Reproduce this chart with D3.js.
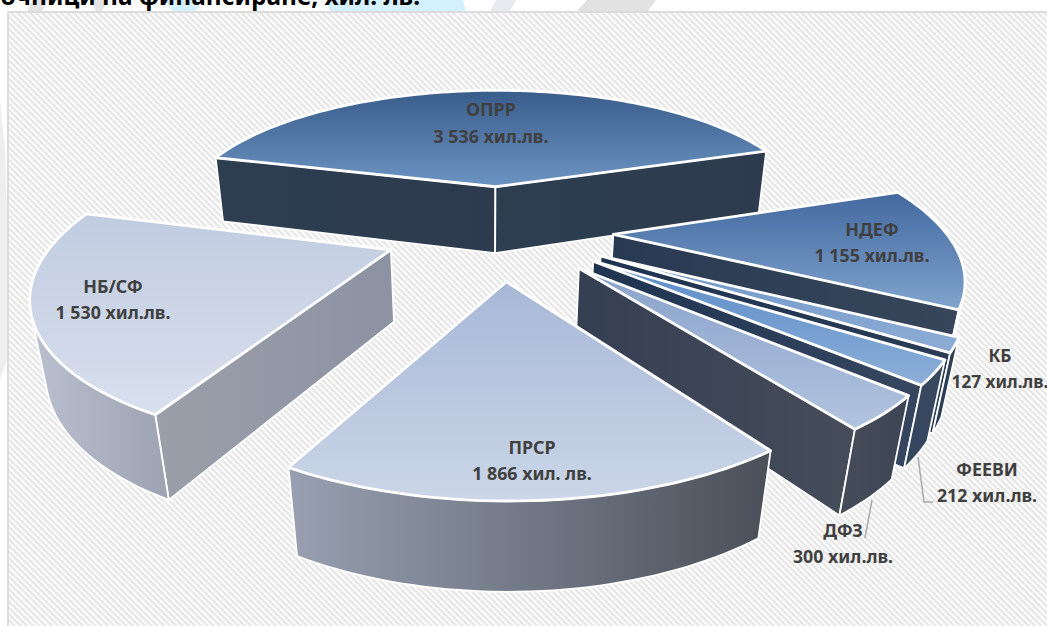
<!DOCTYPE html>
<html><head><meta charset="utf-8">
<style>html,body{margin:0;padding:0;background:#fff;overflow:hidden}svg{display:block}</style>
<script src="https://cdn.jsdelivr.net/npm/d3@7/dist/d3.min.js"></script>
</head><body><svg id="c" width="1047" height="626"></svg>
<script>
// ---- data ----
const sliceNames  = ["НДЕФ","КБ","ФЕЕВИ","ДФЗ","ПРСР","НБ/СФ","ОПРР"];
// wedge sizes as drawn in the picture (the two large front wedges are drawn with each other's size)
const sliceSizes  = [1155,127,212,300,1530,1866,3536];
const valueLabels = ["1 155 хил.лв.","127 хил.лв.","212 хил.лв.","300 хил.лв.","1 866 хил. лв.","1 530 хил.лв.","3 536 хил.лв."];
const titleText   = "очници на финансиране, хил. лв.";

// ---- styles ----
const topFill  = [["#42689f","#80a4cd"],["#6f96c9","#8dadd4"],["#5a8bc8","#8dafd7"],["#8aa2cb","#b1c4df"],["#a7b8d7","#cbd6e7"],["#c0cce0","#d9e0ee"],["#395c8b","#6c94c2"]];
const sideFill = [["#283a52","#37465a"],["#1e3350","#2a3c55"],["#1e3450","#36465f"],["#343f52","#464d5a"],["#6d7480","#4f545d"],["#9b9fa9","#8b92a2"],["#2c3e50","#2e3b4f"]];
const arcFill  = [["#3a4a60","#2c3c52"],["#2b3d56","#2f4159"],["#33455e","#394a60"],["#454d5a","#3d4555"],["#98a0b1","#4a4f58"],["#b9c0cf","#9da3b1"],["#2c3e50","#2e3b4f"]];
const labelPos = [[872,230,256],[1000,356,382],[987,470,496],[843,531,557],[532,448,474],[113,287,313],[491,110,137]];

// ---- perspective layout ----
const deg = Math.PI/180;
const horizonX = 499, horizonY = -350, focal = 1400, groundSpan = 592;
const pieR = 0.2415, explode = 0.083, centreY = 0.02;
const vanish = [485, 2487], depthK = 0.0318;
function project(X,Y){ const q = 1/(1+Y); return {x: horizonX+focal*X*q, y: horizonY+groundSpan*q, q}; }
function drop(p){ const t = depthK*p.q; return {x:p.x+t*(vanish[0]-p.x), y:p.y+t*(vanish[1]-p.y)}; }

const svg = d3.select("#c"), defs = svg.append("defs");
const line = d3.line().x(d=>d.x).y(d=>d.y);
const pie = d3.pie().sort(null).value(d=>d).startAngle(71*deg).endAngle(431*deg);
const arcs = pie(sliceSizes).map((a,i)=>({...a,i}));

function grad(id,c,vertical){
  const g = defs.append("linearGradient").attr("id",id).attr("x1",0).attr("y1",0).attr("x2",vertical?0:1).attr("y2",vertical?1:0);
  g.append("stop").attr("offset","0%").attr("stop-color",c[0]);
  g.append("stop").attr("offset","100%").attr("stop-color",c[1]);
}
sliceNames.forEach((n,i)=>{grad("t"+i,topFill[i],true);grad("s"+i,sideFill[i],false);grad("a"+i,arcFill[i],false);});
const hatch = defs.append("pattern").attr("id","hatch").attr("patternUnits","userSpaceOnUse").attr("width",4.4).attr("height",4.4).attr("patternTransform","rotate(45)");
hatch.append("rect").attr("width",4.4).attr("height",4.4).attr("fill","#fcfcfc");
hatch.append("rect").attr("width",4.4).attr("height",2.2).attr("fill","#e6e6e6");

// ---- page decoration behind the panel ----
const deco = [
  ["#e4e4e4",[[33,0],[48,0],[42,11],[27,11]]],["#e4e4e4",[[90,0],[108,0],[102,11],[96,11]]],
  ["#d3f0fb",[[165,0],[200,0],[196,11],[172,11]]],["#d3f0fb",[[327,0],[463,0],[466,11],[330,11]]],
  ["#e6e9ee",[[496,0],[516,0],[510,11],[490,11]]],["#e2e2e2",[[587,0],[656,0],[648,11],[577,11]]],
  ["#eeeeee",[[0,100],[5,150],[7,210],[7,360],[0,380]]]];
svg.append("g").selectAll("polygon").data(deco).join("polygon").attr("fill",d=>d[0]).attr("points",d=>d[1].join(" "));

svg.append("text").attr("x",420).attr("y",5).attr("text-anchor","end")
  .attr("font-family","'Noto Sans'").attr("font-weight",700).attr("font-size",24.4).attr("fill","#000").text(titleText);

svg.append("rect").attr("x",8).attr("y",12).attr("width",1060).attr("height",640).attr("fill","url(#hatch)").attr("stroke","#dcdcdc").attr("stroke-width",2);

// ---- slices, back to front ----
function geom(a){
  const mid=(a.startAngle+a.endAngle)/2;
  const ox=explode*Math.sin(mid), oy=centreY+explode*Math.cos(mid);
  const apex=project(ox,oy);
  const n=Math.max(4,Math.ceil((a.endAngle-a.startAngle)/(1.5*deg)));
  const rim=d3.range(n+1).map(k=>{const t=a.startAngle+(a.endAngle-a.startAngle)*k/n;
    return project(ox+pieR*Math.sin(t),oy+pieR*Math.cos(t));});
  return {apex,rim,mid};
}
const front=(p,q)=>{const b=drop(p);return (q.x-p.x)*(b.y-p.y)-(q.y-p.y)*(b.x-p.x)<0;};
const quad=pts=>pts.concat(pts.map(drop).reverse());

const order=arcs.slice().sort((u,v)=>Math.cos((v.startAngle+v.endAngle)/2)-Math.cos((u.startAngle+u.endAngle)/2));
const gSl=svg.selectAll("g.slice").data(order).join("g").attr("class","slice");
gSl.each(function(a){
  const g=d3.select(this), G=geom(a), last=G.rim[G.rim.length-1], i=a.i;
  const wall=(pts,fill)=>g.append("path").attr("d",line(quad(pts))+"Z").attr("fill",fill)
     .attr("stroke","#fff").attr("stroke-width",1.8).attr("stroke-linejoin","round");
  if(front(G.apex,G.rim[0])) wall([G.apex,G.rim[0]],`url(#s${i})`);
  if(front(last,G.apex)) wall([last,G.apex],`url(#s${i})`);
  let run=[];
  for(let k=0;k<G.rim.length-1;k++){
    if(front(G.rim[k],G.rim[k+1])){ if(!run.length) run.push(G.rim[k]); run.push(G.rim[k+1]); }
    else if(run.length){ wall(run,`url(#a${i})`); run=[]; }
  }
  if(run.length) wall(run,`url(#a${i})`);
  g.append("path").attr("d",line([G.apex,...G.rim])+"Z").attr("fill",`url(#t${i})`)
   .attr("stroke","#fff").attr("stroke-width",2.8).attr("stroke-linejoin","round");
});

// ---- leader lines ----
const leaders=[[[918,457],[924,502],[933,502]],[[872,500],[865,538]]];
svg.append("g").selectAll("polyline").data(leaders).join("polyline").attr("fill","none").attr("stroke","#a9a9a9").attr("stroke-width",1.5)
  .attr("points",d=>d.join(" "));

// ---- labels ----
const lab=svg.append("g").attr("font-family","'Noto Sans'").attr("font-weight",700).attr("font-size",17.8).attr("fill","#404040").attr("text-anchor","middle");
sliceNames.forEach((n,i)=>{
  const fs = i===1 ? 17.2 : 17.8;
  lab.append("text").attr("x",labelPos[i][0]).attr("y",labelPos[i][1]).attr("dy","0.35em").attr("font-size",fs).text(n);
  lab.append("text").attr("x",labelPos[i][0]).attr("y",labelPos[i][2]).attr("dy","0.35em").attr("font-size",fs).text(valueLabels[i]);
});
</script></body></html>
